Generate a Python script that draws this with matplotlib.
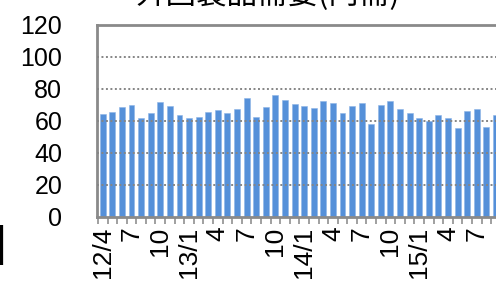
import matplotlib
matplotlib.use('Agg')
import matplotlib.pyplot as plt
import numpy as np

plt.rcParams['font.family'] = ['Liberation Sans', 'DejaVu Sans']

# monthly values from 2012/4
values = [64.6, 65.8, 68.7, 70.0, 61.6, 65.0, 71.6, 69.1, 63.7, 61.6,
          62.3, 65.6, 66.6, 64.8, 67.5, 74.6, 62.3, 68.9, 76.0, 72.9,
          70.8, 69.6, 68.3, 72.7, 71.4, 65.0, 69.4, 71.4, 57.9, 70.0,
          72.7, 67.3, 65.2, 62.1, 60.2, 63.5, 62.1, 55.6, 66.0, 67.7,
          56.4, 63.7]
tick_labels = ['12/4', '7', '10', '13/1', '4', '7', '10', '14/1',
               '4', '7', '10', '15/1', '4', '7']
title = '外国製品需要(内需)'

x = np.arange(len(values))
W, H = 496, 282
fig = plt.figure(figsize=(W / 100, H / 100), dpi=100)

px = 9.59  # pixels per month
x0, x1 = -0.6, 45
ax = fig.add_axes([97 / W, (H - 217) / H, (x1 - x0) * px / W, (217 - 25) / H])

ax.bar(x, values, width=0.62, color='#5590D9', edgecolor='#8DB4E6', linewidth=0.4, zorder=2)
ax.set_xlim(x0, x1)
ax.set_ylim(0, 120)
ax.set_yticks(range(0, 121, 20))
ax.set_yticklabels([str(v) for v in range(0, 121, 20)], fontsize=18)
ax.tick_params(axis='y', length=0, pad=25)

# dotted gridlines drawn over the bars
for v in range(20, 101, 20):
    ax.axhline(v, color='#858585', linestyle=(0, (1, 1.3)), linewidth=1.4, zorder=3)

ax.set_xticks(x[::3])
ax.set_xticklabels(tick_labels, rotation=90, fontsize=19, va='top')
ax.set_xticks(np.arange(len(values) + 3) - 0.5, minor=True)
ax.tick_params(axis='x', which='major', length=0, pad=7)
ax.tick_params(axis='x', which='minor', length=5, width=1.2, color='#909090')

for s in ['left', 'top', 'bottom']:
    ax.spines[s].set_color('#8a8a8a')
    ax.spines[s].set_linewidth(2)
ax.spines['right'].set_visible(False)

fig.text(268 / W, 1 - 4 / H, title, ha='center', va='baseline', fontsize=22,
         family=['Noto Sans CJK JP', 'DejaVu Sans'])
fig.text(-5 / W, 1 - 245 / H, '|', ha='left', va='center', fontsize=30)

fig.savefig('out.png', dpi=100)
